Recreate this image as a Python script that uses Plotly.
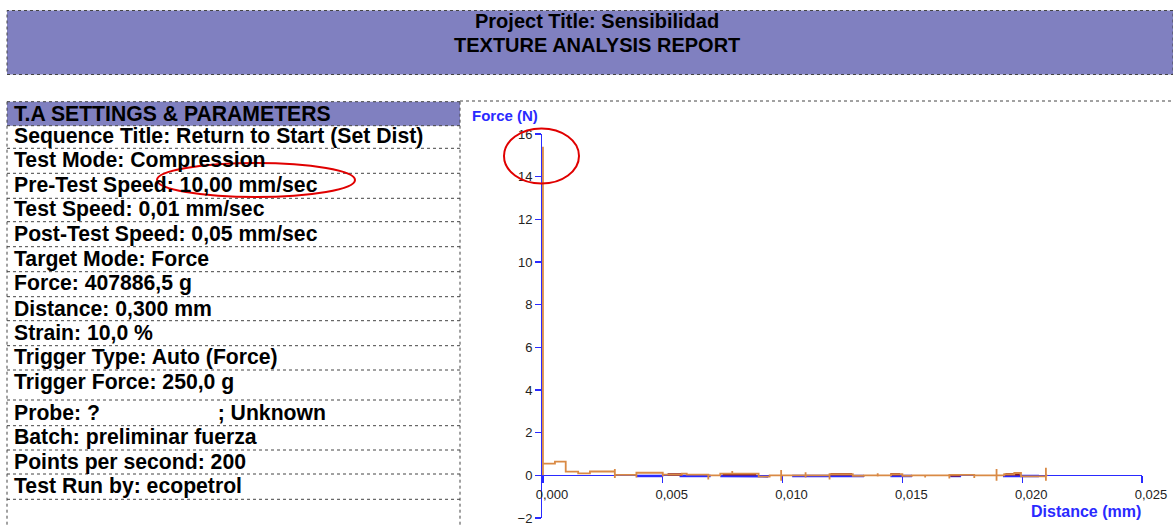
import plotly.graph_objects as go

# ---------------- data ----------------
orange_distance_mm = [0.0, 0.0, 0.0, 0.00050, 0.00095, 0.00147, 0.00196,
                      0.00300, 0.00300, 0.00300, 0.00390, 0.00390,
                      0.00500, 0.00500, 0.00580, 0.00600,
                      0.00690, 0.00690, 0.00740, 0.00790, 0.00790,
                      0.00900, 0.00946, 0.00994, 0.00994, 0.00994,
                      0.01096, 0.01096, 0.01096, 0.01196, 0.01196,
                      0.01293, 0.01340, 0.01397, 0.01397, 0.01397,
                      0.01453, 0.01500, 0.01540, 0.01595, 0.01595,
                      0.01696, 0.01696, 0.01800, 0.01800,
                      0.01893, 0.01893, 0.01893, 0.01925, 0.01967, 0.01995,
                      0.02099, 0.02099, 0.02099, 0.02105]
orange_force_N = [0.0, 15.4, 0.55, 0.64, 0.17, 0.09, 0.18,
                  0.30, -0.12, 0.02, -0.10, 0.12,
                  -0.06, 0.03, 0.08, 0.03,
                  -0.20, 0.0, 0.08, 0.20, 0.08,
                  -0.06, 0.0, 0.25, -0.25, 0.0,
                  0.15, -0.10, 0.0, -0.20, 0.05,
                  -0.02, 0.0, 0.10, -0.05, 0.0,
                  0.05, -0.02, 0.0, -0.10, 0.0,
                  -0.15, 0.02, -0.12, 0.0,
                  0.30, -0.25, 0.0, 0.05, 0.11, -0.05,
                  0.35, -0.25, 0.0, 0.0]

red_distance_mm = [0.0052, 0.0058, None, 0.0075, 0.0089, None, 0.0120, 0.0129, None,
                   0.0145, 0.0149, None, 0.0170, 0.0174, None, 0.0193, 0.0199]
red_force_N = [0.04, 0.04, None, 0.05, 0.05, None, 0.05, 0.05, None,
               0.05, 0.05, None, 0.0, 0.0, None, 0.05, 0.05]

blue_distance_mm = [0.0039, 0.0050, None, 0.0057, 0.0070, None, 0.0074, 0.0094, None,
                    0.0104, 0.0134, None, 0.0145, 0.0154, None, 0.0170, 0.01745, None,
                    0.0192, 0.0207]
blue_force_N = [-0.03, -0.03, None, -0.03, -0.03, None, -0.03, -0.05, None,
                -0.03, -0.03, None, -0.03, -0.03, None, -0.03, -0.03, None,
                -0.03, -0.03]

x_ticks = [0.0, 0.005, 0.010, 0.015, 0.020, 0.025]
y_ticks = [-2, 0, 2, 4, 6, 8, 10, 12, 14, 16]

report_title = ["Project Title: Sensibilidad", "TEXTURE ANALYSIS REPORT"]
settings_header = "T.A SETTINGS & PARAMETERS"
settings_rows = [
    "Sequence Title: Return to Start (Set Dist)",
    "Test Mode: Compression",
    "Pre-Test Speed: 10,00 mm/sec",
    "Test Speed: 0,01 mm/sec",
    "Post-Test Speed: 0,05 mm/sec",
    "Target Mode: Force",
    "Force: 407886,5 g",
    "Distance: 0,300 mm",
    "Strain: 10,0 %",
    "Trigger Type: Auto (Force)",
    "Trigger Force: 250,0 g",
    "Probe: ?                    ; Unknown",
    "Batch: preliminar fuerza",
    "Points per second: 200",
    "Test Run by: ecopetrol",
]

# ---------------- layout helpers ----------------
W, H = 1173, 525
def px(x):
    return x / W
def py(y):
    return 1 - y / H

FONT = "Arial, Liberation Sans, sans-serif"
BLUE = "#2a2aff"
ORANGE = "#d98a45"
DARKRED = "#8b1a1a"
PURPLE = "#8080c0"
DOT = "#444444"

fig = go.Figure()
fig.add_trace(go.Scatter(x=blue_distance_mm, y=blue_force_N, mode="lines",
                         line=dict(color=BLUE, width=2.5), hoverinfo="skip", showlegend=False))
fig.add_trace(go.Scatter(x=red_distance_mm, y=red_force_N, mode="lines",
                         line=dict(color=DARKRED, width=2.5), hoverinfo="skip", showlegend=False))
fig.add_trace(go.Scatter(x=orange_distance_mm, y=orange_force_N, mode="lines",
                         line=dict(color=ORANGE, width=1.8, shape="hv"),
                         hoverinfo="skip", showlegend=False))

shapes = []
shapes.append(dict(type="rect", xref="paper", yref="paper",
                   x0=px(7), x1=px(1173), y0=py(74.5), y1=py(10.5),
                   fillcolor=PURPLE, line=dict(color=DOT, width=1, dash="dot"), layer="below"))
shapes.append(dict(type="rect", xref="paper", yref="paper",
                   x0=px(7), x1=px(460), y0=py(125.7), y1=py(101.7),
                   fillcolor=PURPLE, line=dict(width=0), layer="below"))
row_lines = [101.7, 125.7, 148.3, 173.3, 198.3, 221.7, 246.7, 271.7, 296.7,
             320.7, 345.7, 370, 400, 425.7, 450, 474, 499.3]
for yl in row_lines:
    shapes.append(dict(type="line", xref="paper", yref="paper",
                       x0=px(7), x1=px(460), y0=py(yl), y1=py(yl),
                       line=dict(color=DOT, width=1, dash="dot")))
for xl in (7, 460):
    shapes.append(dict(type="line", xref="paper", yref="paper",
                       x0=px(xl), x1=px(xl), y0=py(101.7), y1=py(525),
                       line=dict(color=DOT, width=1, dash="dot")))
shapes.append(dict(type="line", xref="paper", yref="paper",
                   x0=px(460), x1=px(1173), y0=py(101), y1=py(101),
                   line=dict(color=DOT, width=1, dash="dot")))
shapes.append(dict(type="circle", xref="paper", yref="paper",
                   x0=px(157), x1=px(355), y0=py(197), y1=py(163),
                   line=dict(color="#e00000", width=2)))
shapes.append(dict(type="circle", xref="paper", yref="paper",
                   x0=px(504), x1=px(579), y0=py(183.5), y1=py(128.5),
                   line=dict(color="#e00000", width=2)))

annotations = []
for t, yc in zip(report_title, [21, 45]):
    annotations.append(dict(text=t, xref="paper", yref="paper", x=px(597), y=py(yc),
                            xanchor="center", yanchor="middle", showarrow=False,
                            font=dict(family=FONT, size=20, color="black", weight="bold")))
annotations.append(dict(text=settings_header, xref="paper", yref="paper", x=px(12), y=py(113.5),
                        xanchor="left", yanchor="middle", showarrow=False,
                        font=dict(family=FONT, size=21.2, color="black", weight="bold")))
row_text_y = [136, 160, 185, 209, 234, 259, 283, 308, 332, 357, 382, 412, 437, 462, 486]
for t, yc in zip(settings_rows, row_text_y):
    annotations.append(dict(text=t, xref="paper", yref="paper", x=px(12), y=py(yc),
                            xanchor="left", yanchor="middle", showarrow=False,
                            font=dict(family=FONT, size=21.2, color="black", weight="bold")))
annotations.append(dict(text="Force (N)", xref="paper", yref="paper", x=px(470), y=py(115),
                        xanchor="left", yanchor="middle", showarrow=False,
                        font=dict(family=FONT, size=15, color=BLUE, weight="bold")))
annotations.append(dict(text="Distance (mm)", xref="paper", yref="paper", x=px(1143), y=py(511),
                        xanchor="right", yanchor="middle", showarrow=False,
                        font=dict(family=FONT, size=16, color=BLUE, weight="bold")))

y_dom = [py(518), py(134)]
x_pos = y_dom[0] + (y_dom[1] - y_dom[0]) * (0 - (-2)) / 18.0

fig.update_layout(
    template="none",
    width=W, height=H,
    margin=dict(l=0, r=0, t=0, b=0, pad=0, autoexpand=False),
    paper_bgcolor="white", plot_bgcolor="white",
    separators=",.",
    shapes=shapes, annotations=annotations,
    hovermode=False,
    xaxis=dict(domain=[px(542), px(1142)], range=[-0.00004, 0.025],
               anchor="free", position=x_pos, automargin=False,
               tickvals=x_ticks, tickformat=".3f",
               showline=True, linecolor=BLUE, linewidth=1,
               ticks="outside", ticklen=7, tickcolor=BLUE, tickwidth=1.2,
               showgrid=False, zeroline=False, layer="below traces",
               ticklabelshift=9, ticklabeloverflow="allow",
               tickfont=dict(family=FONT, size=13, color="#222222")),
    yaxis=dict(domain=y_dom, range=[-2, 16], automargin=False,
               tickvals=y_ticks, tickformat="d",
               showline=True, linecolor=BLUE, linewidth=1,
               ticks="outside", ticklen=6, tickcolor=BLUE, tickwidth=1.2,
               showgrid=False, zeroline=False, layer="below traces",
               ticklabeloverflow="allow",
               tickfont=dict(family=FONT, size=13, color="#222222")),
)

fig.write_html("out.html",
               config={"displayModeBar": False, "staticPlot": True},
               post_script="document.body.style.margin='0';document.body.style.overflow='hidden';")
